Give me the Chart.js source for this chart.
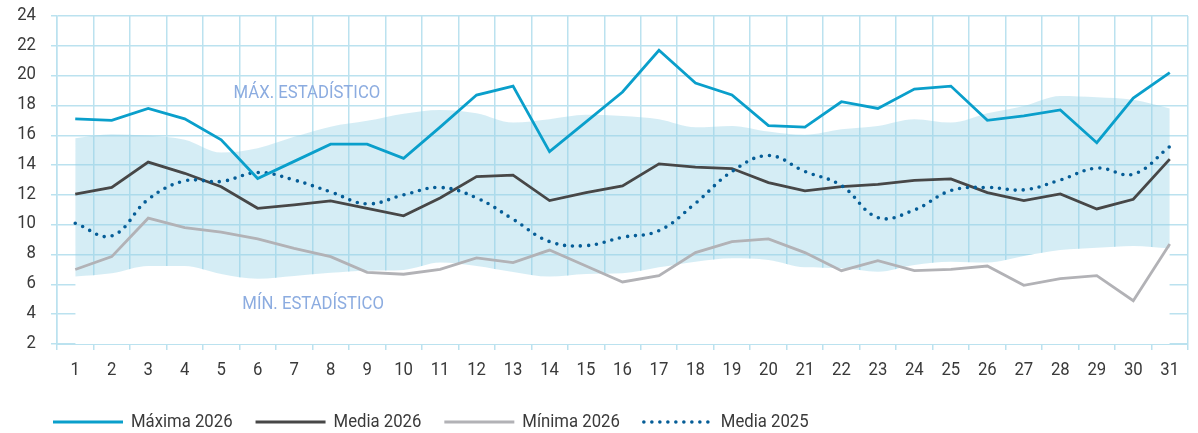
<!DOCTYPE html>
<html lang="es">
<head>
<meta charset="utf-8">
<title>Temperaturas</title>
<script src="https://cdn.jsdelivr.net/npm/chart.js@4.4.1/dist/chart.umd.min.js"></script>
<style>
  html, body { margin: 0; padding: 0; background: #fff; }
  .grafico { position: relative; width: 1198px; height: 433px; }
</style>
</head>
<body>
<div class="grafico"><canvas id="chart-temp"></canvas></div>
<script>
// Días del mes
const dias = ['1','2','3','4','5','6','7','8','9','10','11','12','13','14','15','16','17','18','19','20','21','22','23','24','25','26','27','28','29','30','31'];

const maxima2026 = [17.1, 17.0, 17.8, 17.1, 15.7, 13.1, 14.25, 15.4, 15.4, 14.45, 16.55, 18.7, 19.3, 14.9, 16.9, 18.9, 21.7, 19.5, 18.7, 16.65, 16.55, 18.25, 17.8, 19.1, 19.3, 17.0, 17.3, 17.7, 15.5, 18.5, 20.2];
const media2026 = [12.05, 12.5, 14.2, 13.45, 12.55, 11.1, 11.33, 11.6, 11.1, 10.6, 11.8, 13.23, 13.33, 11.62, 12.15, 12.6, 14.08, 13.86, 13.77, 12.83, 12.27, 12.56, 12.7, 12.98, 13.07, 12.15, 11.62, 12.07, 11.06, 11.71, 14.4];
const minima2026 = [7.0, 7.86, 10.44, 9.8, 9.5, 9.05, 8.42, 7.86, 6.81, 6.68, 7.01, 7.77, 7.46, 8.3, 7.23, 6.16, 6.58, 8.13, 8.87, 9.05, 8.13, 6.92, 7.59, 6.92, 7.0, 7.23, 5.94, 6.38, 6.58, 4.9, 8.7];
const media2025 = [10.1, 9.25, 11.7, 12.94, 12.9, 13.5, 13.0, 12.2, 11.4, 12.0, 12.5, 11.8, 10.37, 8.87, 8.6, 9.16, 9.6, 11.44, 13.57, 14.64, 13.57, 12.63, 10.48, 10.99, 12.29, 12.5, 12.34, 13.0, 13.8, 13.39, 15.24];

// Banda estadística
const maxEstadistico = [15.8, 16.07, 15.96, 15.7, 14.84, 15.13, 15.9, 16.58, 16.97, 17.45, 17.7, 17.48, 16.85, 17.08, 17.37, 17.3, 17.08, 16.54, 16.63, 16.25, 16.03, 16.4, 16.63, 17.08, 16.85, 17.48, 17.97, 18.64, 18.55, 18.38, 17.8];
const minEstadistico = [6.52, 6.74, 7.23, 7.23, 6.7, 6.38, 6.56, 6.78, 6.92, 6.97, 7.46, 7.23, 6.83, 6.52, 6.7, 6.74, 7.14, 7.52, 7.75, 7.64, 7.14, 7.08, 6.85, 7.3, 7.52, 7.46, 7.9, 8.3, 8.46, 8.58, 8.42];

const yTicks = [2, 4, 6, 8, 10, 12, 14, 16, 18, 20, 22, 24];

// No hay fuente condensada instalada: se estrecha Roboto a mano
const fuente = "19px Roboto, 'Noto Sans', sans-serif";
const estrechar = 0.88;
const colorTexto = '#3a3a3a';
const colorGrid = 'rgb(187, 226, 239)';

// Rótulos de la banda
const rotulos = [
  { text: 'MÁX. ESTADÍSTICO', x: 6.35, y: 18.85 },
  { text: 'MÍN. ESTADÍSTICO', x: 6.52, y: 4.68 },
];

function texto(ctx, str, x, y, align) {
  ctx.save();
  ctx.translate(x, y);
  ctx.scale(estrechar, 1);
  ctx.textAlign = align;
  ctx.textBaseline = 'middle';
  ctx.fillText(str, 0, 0);
  ctx.restore();
}

const textosPlugin = {
  id: 'textos',
  afterDraw(chart) {
    const ctx = chart.ctx;
    const xs = chart.scales.x;
    const ys = chart.scales.y;
    ctx.save();
    ctx.font = fuente;

    // etiquetas de los ejes
    ctx.fillStyle = colorTexto;
    ys.ticks.forEach((t, i) => texto(ctx, String(t.value), ys.right - 21, ys.getPixelForTick(i) - 1, 'right'));
    dias.forEach((d, i) => texto(ctx, d, xs.getPixelForValue(i), xs.top + 26, 'center'));

    // rótulos de la banda
    ctx.fillStyle = 'rgb(140, 172, 224)';
    rotulos.forEach(r => texto(ctx, r.text, xs.getPixelForValue(r.x), ys.getPixelForValue(r.y), 'center'));

    // leyenda
    let x = 53;
    const y = 422;
    chart.data.datasets.filter(ds => ds.enLeyenda).forEach(ds => {
      ctx.save();
      ctx.strokeStyle = ds.borderColor;
      ctx.lineWidth = ds.borderWidth;
      ctx.lineCap = ds.borderCapStyle || 'butt';
      ctx.setLineDash(ds.borderDash || []);
      ctx.beginPath();
      ctx.moveTo(x + (ds.borderDash ? 1 : 0), y);
      ctx.lineTo(x + 70, y);
      ctx.stroke();
      ctx.restore();
      ctx.fillStyle = colorTexto;
      texto(ctx, ds.label, x + 78, y, 'left');
      x += 78 + ctx.measureText(ds.label).width * estrechar + 23;
    });
    ctx.restore();
  }
};

function lineaSerie(label, data, color, width, extra) {
  return Object.assign({
    label: label,
    data: data,
    borderColor: color,
    backgroundColor: color,
    borderWidth: width,
    pointRadius: 0,
    pointHoverRadius: 0,
    fill: false,
    tension: 0,
    enLeyenda: true,
  }, extra || {});
}

const ctxTemp = document.getElementById('chart-temp');

new Chart(ctxTemp, {
  type: 'line',
  data: {
    labels: dias,
    datasets: [
      lineaSerie('Máxima 2026', maxima2026, '#0a9fcb', 2.8, { order: 1 }),
      lineaSerie('Media 2026', media2026, '#474747', 2.8, { order: 3 }),
      lineaSerie('Mínima 2026', minima2026, '#b2b2b6', 2.8, { order: 4 }),
      lineaSerie('Media 2025', media2025, '#055d97', 3.6, {
        order: 2,
        borderDash: [0, 8],
        borderCapStyle: 'round',
        tension: 0.4,
      }),
      {
        label: 'min',
        data: minEstadistico,
        borderWidth: 0,
        borderColor: 'rgba(0,0,0,0)',
        backgroundColor: '#ffffff',
        pointRadius: 0,
        fill: 'start',
        tension: 0.4,
        cubicInterpolationMode: 'monotone',
        order: 6,
      },
      {
        label: 'max',
        data: maxEstadistico,
        borderWidth: 0,
        borderColor: 'rgba(0,0,0,0)',
        backgroundColor: 'rgba(150, 210, 230, 0.4)',
        pointRadius: 0,
        fill: 4,
        tension: 0.4,
        cubicInterpolationMode: 'monotone',
        order: 5,
      },
    ]
  },
  options: {
    responsive: true,
    maintainAspectRatio: false,
    animation: false,
    layout: {
      padding: { left: 27, top: 16, right: 10, bottom: 47 }
    },
    plugins: {
      tooltip: { enabled: false },
      legend: { display: false }
    },
    scales: {
      x: {
        offset: true,
        grid: {
          offset: true,
          color: colorGrid,
          lineWidth: 1.5,
          tickLength: 6,
        },
        border: { color: colorGrid, width: 2 },
        ticks: { display: false, autoSkip: false },
        afterFit: scale => { scale.height = 42; }
      },
      y: {
        min: 2,
        max: 24,
        afterBuildTicks: scale => { scale.ticks = yTicks.map(v => ({ value: v })); },
        grid: {
          color: colorGrid,
          lineWidth: 1.5,
          tickLength: 6,
        },
        border: { color: colorGrid, width: 1.5 },
        ticks: { display: false },
        afterFit: scale => { scale.width = 30; }
      }
    }
  },
  plugins: [textosPlugin]
});
</script>
</body>
</html>
